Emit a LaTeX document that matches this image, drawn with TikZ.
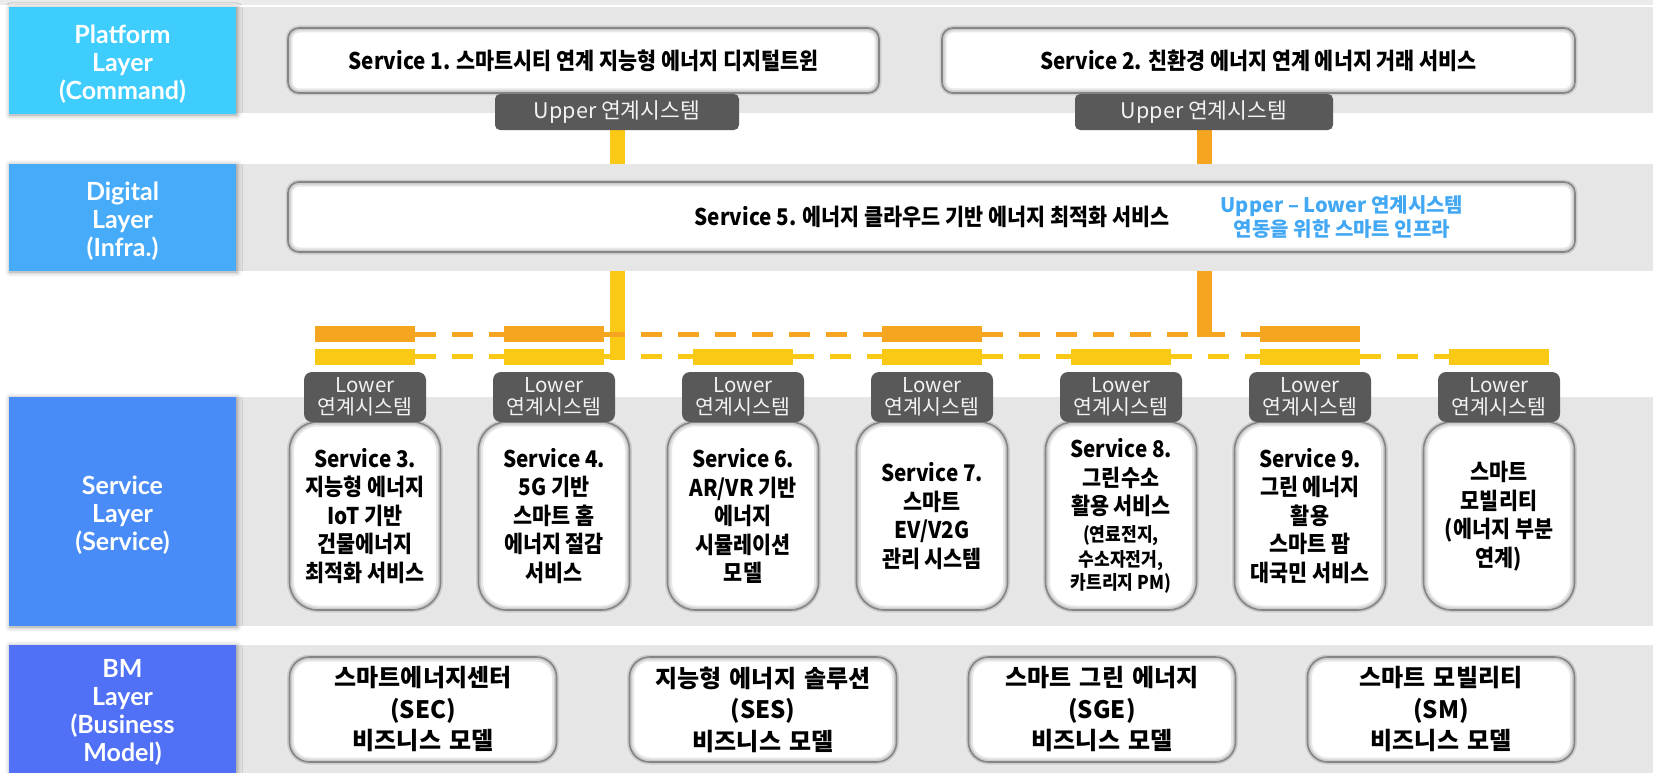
\documentclass[tikz,border=0pt]{standalone}
\usepackage{fontspec}
\setmainfont{Noto Sans CJK KR}
\newfontfamily\cond{Noto Sans CJK KR}[FakeStretch=0.9]
\newfontfamily\labf{Lato}
\newcommand\bmfont{\bfseries\fontsize{24}{31.5}\selectfont\spaceskip 8pt plus 1pt\relax}
\usetikzlibrary{shadows.blur}
\pgfdeclarelayer{lines}
\pgfdeclarelayer{bands}
\pgfsetlayers{lines,bands,main}
\definecolor{bandgray}{HTML}{E6E6E6}
\definecolor{topgray}{HTML}{EBEBEB}
\definecolor{darkbox}{HTML}{595959}
\definecolor{orangeC}{HTML}{F5A51F}
\definecolor{yellowC}{HTML}{F9C915}
\definecolor{bluetxt}{HTML}{42A8F4}
\definecolor{cPlat}{HTML}{3FCDFE}
\definecolor{cDig}{HTML}{46ACF9}
\definecolor{cSvc}{HTML}{4A8CF7}
\definecolor{cBM}{HTML}{5070F6}
\definecolor{ltext}{HTML}{F2F2F2}
\begin{document}
\begin{tikzpicture}[x=1pt,y=-1pt,
  lab/.style={fill=none, minimum width=227pt, inner sep=0pt,
    blur shadow={shadow xshift=1pt, shadow yshift=-1pt, shadow blur radius=5pt, shadow opacity=40}},
  labtxt/.style={text=white, font=\labf\bfseries\fontsize{25}{28}\selectfont, align=center, inner sep=0pt, yshift=-4pt},
  bevel/.style={fill=white,
    postaction={draw=black!9, line width=9pt},
    postaction={draw=black!20, line width=5pt},
    postaction={draw=black!48, line width=1.6pt}},
  wide/.style={bevel, rounded corners=11pt, inner sep=0pt, font=\cond\bfseries\fontsize{23}{28}\selectfont},
  svc/.style={bevel, rounded corners=28pt, minimum width=151pt, minimum height=188pt, inner sep=0pt,
    align=center, font=\cond\bfseries\fontsize{23}{28.5}\selectfont},
  bm/.style={bevel, rounded corners=20pt, minimum width=267pt, minimum height=105pt, inner sep=0pt,
    align=center, font=\bmfont},
  upbox/.style={fill=darkbox, rounded corners=5pt, minimum height=36pt, inner sep=0pt,
    text=ltext, font=\fontsize{21.5}{23}\selectfont},
  lowbox/.style={fill=darkbox, rounded corners=8pt, minimum width=122pt, minimum height=50pt, inner sep=0pt,
    text=ltext, align=center, font=\fontsize{20.5}{21.5}\selectfont},
  obar/.style={fill=orangeC, minimum width=100pt, minimum height=16pt, inner sep=0pt},
  ybar/.style={fill=yellowC, minimum width=100pt, minimum height=16pt, inner sep=0pt},
  orow/.style={draw=orangeC, line width=5pt, dash pattern=on 21pt off 16pt},
  yrow/.style={draw=yellowC, line width=5pt, dash pattern=on 21pt off 16pt},
  vline/.style={line width=15pt}
]
\useasboundingbox (0,0) rectangle (1653,773);

% layer label boxes
\node[lab, fill=cPlat, minimum height=107pt] (Lp) at (122.5,60.5) {};
\node[labtxt] (Lpt) at (Lp) {Platform\\Layer\\(Command)};
\node[lab, fill=cDig, minimum height=107pt] (Ld) at (122.5,217.5) {};
\node[labtxt] (Ldt) at (Ld) {Digital\\Layer\\(Infra.)};
\node[lab, fill=cSvc, minimum height=229pt] (Ls) at (122.5,511.5) {};
\node[labtxt] (Lst) at (Ls) {Service\\Layer\\(Service)};
\node[lab, fill=cBM, minimum height=128pt] (Lb) at (122.5,709) {};
\node[labtxt, yshift=1pt] (Lbt) at (Lb) {BM\\Layer\\(Business\\Model)};

% platform services
\node[wide, minimum width=591pt, minimum height=65pt] (S1) at (583.5,60.5)
  {Service 1. 스마트시티 연계 지능형 에너지 디지털트윈};
\node[wide, minimum width=633pt, minimum height=65pt] (S2) at (1258.5,60.5)
  {Service 2. 친환경 에너지 연계 에너지 거래 서비스};
\node[upbox, minimum width=244pt] (U1) at (617,112) {Upper 연계시스템};
\node[upbox, minimum width=258pt] (U2) at (1204,112) {Upper 연계시스템};

% digital layer
\node[wide, minimum width=1287pt, minimum height=70pt] (S5) at (931.5,217) {};
\node[font=\cond\bfseries\fontsize{23}{28}\selectfont, inner sep=0pt] (S5t) at (932,217)
  {Service 5. 에너지 클라우드 기반 에너지 최적화 서비스};
\node[text=bluetxt, align=center, font=\bfseries\fontsize{20}{24}\selectfont, inner sep=0pt] (S5b) at (1342,217)
  {Upper – Lower 연계시스템\\연동을 위한 스마트 인프라};

% bars
\foreach \i/\x in {1/365,2/554,4/932,6/1310}
  \node[obar] (ob\i) at (\x,334) {};
\foreach \i/\x in {1/365,2/554,3/743,4/932,5/1121,6/1310,7/1499}
  \node[ybar] (yb\i) at (\x,356.5) {};
\draw[orow] (ob1.east) -- (ob2.west);
\draw[orow] (ob2.east) -- (ob4.west);
\draw[orow] (ob4.east) -- (ob6.west);
\foreach \a/\b in {1/2,2/3,3/4,4/5,5/6,6/7}
  \draw[yrow] (yb\a.east) -- (yb\b.west);

% service boxes
\node[svc] (S3) at (365,516) {Service 3.\\지능형 에너지\\IoT 기반\\건물에너지\\최적화 서비스};
\node[svc] (S4) at (554,516) {Service 4.\\5G 기반\\스마트 홈\\에너지 절감\\서비스};
\node[svc] (S6) at (743,516) {Service 6.\\AR/VR 기반\\에너지\\시뮬레이션\\모델};
\node[svc] (S7) at (932,516) {Service 7.\\스마트\\EV/V2G\\관리 시스템};
\node[svc] (S8) at (1121,516) {Service 8.\\그린수소\\활용 서비스\\[-1.5pt]
  {\fontsize{19}{24}\selectfont (연료전지,}\\[-4pt]
  {\fontsize{19}{24}\selectfont 수소자전거,}\\[-5.5pt]
  {\fontsize{19}{24}\selectfont 카트리지 PM)}};
\node[svc] (S9) at (1310,516) {Service 9.\\그린 에너지\\활용\\스마트 팜\\대국민 서비스};
\node[svc] (S10) at (1499,516) {스마트\\모빌리티\\(에너지 부분\\연계)};

% lower boxes
\foreach \i/\x in {1/365,2/554,3/743,4/932,5/1121,6/1310,7/1499}
  \node[lowbox] (lo\i) at (\x,397) {Lower\\연계시스템};

% BM boxes
\node[bm] (B1) at (423,709.5) {스마트에너지센터\\(SEC)\\비즈니스 모델};
\node[bm] (B2) at (763,709.5) {지능형 에너지 솔루션\\(SES)\\비즈니스 모델};
\node[bm] (B3) at (1102,709.5) {스마트 그린 에너지\\(SGE)\\비즈니스 모델};
\node[bm] (B4) at (1441,709.5) {스마트 모빌리티\\(SM)\\비즈니스 모델};

\coordinate (yend) at (617,360);
\coordinate (oend) at (1204,337);

\begin{pgfonlayer}{lines}
  \draw[vline, yellowC] (U1.south) -- (yend);
  \draw[vline, orangeC] (U2.south) -- (oend);
\end{pgfonlayer}

\begin{pgfonlayer}{bands}
  \fill[topgray] (0,0) rectangle (1653,5);
  \fill[bandgray] (9,7) rectangle (1653,113);
  \fill[bandgray] (9,164) rectangle (1653,271);
  \fill[bandgray] (9,397) rectangle (1653,626);
  \fill[bandgray] (9,645) rectangle (1653,773);
\end{pgfonlayer}
\end{tikzpicture}
\end{document}
